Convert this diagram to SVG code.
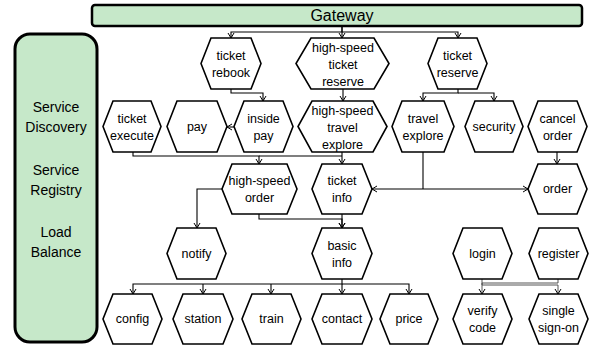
<svg xmlns="http://www.w3.org/2000/svg" width="593" height="347" viewBox="0 0 593 347">
<style>
.hex{fill:#fff;stroke:#000;stroke-width:1.6;stroke-linejoin:miter}
.t{font-family:"Liberation Sans",Arial,sans-serif;font-size:12.5px;fill:#000;text-anchor:middle}
.side{font-family:"Liberation Sans",Arial,sans-serif;font-size:14px;fill:#000;text-anchor:middle}
.c{fill:none;stroke:#000;stroke-width:1.1}
.a{marker-end:url(#arr)}
</style>
<defs>
<marker id="arr" viewBox="-6 -4 7 8" markerWidth="7" markerHeight="8" refX="0" refY="0" orient="auto" markerUnits="userSpaceOnUse">
<path d="M-5,-3 L0,0 L-5,3" fill="none" stroke="#000" stroke-width="1"/>
</marker>
</defs>
<rect width="593" height="347" fill="#fff"/>
<g id="gateway">
<rect x="92" y="5" width="490" height="21" rx="3" fill="#c6e8c9" stroke="#000" stroke-width="2.5"/>
<text x="342" y="21" class="side" style="font-size:16px">Gateway</text>
</g>
<g id="infra">
<rect x="15" y="34" width="82" height="308" rx="15" fill="#c6e8c9" stroke="#000" stroke-width="3"/>
<text class="side" x="56" y="112">Service</text>
<text class="side" x="56" y="132">Discovery</text>
<text class="side" x="56" y="175">Service</text>
<text class="side" x="56" y="195">Registry</text>
<text class="side" x="56" y="237">Load</text>
<text class="side" x="56" y="257">Balance</text>
</g>
<g id="connectors">
<path class="c a" d="M342,26 V32 H231 V38"/>
<path class="c a" d="M342,26 V38"/>
<path class="c a" d="M342,32 H458 V38"/>
<path class="c a" d="M231,89 V93 H263 V101"/>
<path class="c a" d="M343,89 V101"/>
<path class="c a" d="M458,89 V93 H423 V101"/>
<path class="c a" d="M458,93 H494 V101"/>
<path class="c a" d="M234,127 H227"/>
<path class="c a" d="M133,152 V156 H259 V164"/>
<path class="c" d="M259,156 H342"/>
<path class="c a" d="M342,152 V164"/>
<path class="c" d="M423,152 V189"/>
<path class="c a" d="M423,189 H372"/>
<path class="c a" d="M423,189 H528"/>
<path class="c a" d="M557,152 V164"/>
<path class="c a" d="M222,189 H197 V228"/>
<path class="c a" d="M259,214 V219 H342 V228"/>
<path class="c a" d="M342,214 V228"/>
<path class="c a" d="M342,279 V284 H133 V294"/>
<path class="c a" d="M203,284 V294"/>
<path class="c a" d="M271,284 V294"/>
<path class="c a" d="M342,284 V294"/>
<path class="c a" d="M342,284 H409 V294"/>
<path class="c a" d="M482,279 V285 H558 V294" style="stroke:#444;stroke-width:0.9"/>
<path class="c a" d="M558,279 V283 H482 V294" style="stroke:#444;stroke-width:0.9"/>
</g>
<g id="ticket-rebook"><polygon class="hex" points="211,38 251,38 261,63.5 251,89 211,89 201,63.5"/><text class="t" x="231" y="60">ticket</text><text class="t" x="231" y="77">rebook</text></g>
<g id="hs-ticket-reserve"><polygon class="hex" points="311,38 374,38 389,63.5 374,89 311,89 296,63.5"/><text class="t" x="343" y="52">high-speed</text><text class="t" x="343" y="69">ticket</text><text class="t" x="343" y="86">reserve</text></g>
<g id="ticket-reserve"><polygon class="hex" points="438,38 477,38 487,63.5 477,89 438,89 428,63.5"/><text class="t" x="457.5" y="60">ticket</text><text class="t" x="457.5" y="77">reserve</text></g>
<g id="ticket-execute"><polygon class="hex" points="113,101 151,101 161,126.5 151,152 113,152 103,126.5"/><text class="t" x="132" y="123">ticket</text><text class="t" x="132" y="140">execute</text></g>
<g id="pay"><polygon class="hex" points="177,101 217,101 227,126.5 217,152 177,152 167,126.5"/><text class="t" x="197" y="131">pay</text></g>
<g id="inside-pay"><polygon class="hex" points="244,101 283,101 293,126.5 283,152 244,152 234,126.5"/><text class="t" x="263.5" y="123">inside</text><text class="t" x="263.5" y="140">pay</text></g>
<g id="hs-travel-explore"><polygon class="hex" points="312,101 373,101 387,126.5 373,152 312,152 298,126.5"/><text class="t" x="342.5" y="115">high-speed</text><text class="t" x="342.5" y="132">travel</text><text class="t" x="342.5" y="149">explore</text></g>
<g id="travel-explore"><polygon class="hex" points="402,101 444,101 454,126.5 444,152 402,152 392,126.5"/><text class="t" x="423" y="123">travel</text><text class="t" x="423" y="140">explore</text></g>
<g id="security"><polygon class="hex" points="475,101 513,101 523,126.5 513,152 475,152 465,126.5"/><text class="t" x="494" y="131">security</text></g>
<g id="cancel-order"><polygon class="hex" points="538,101 577,101 587,126.5 577,152 538,152 528,126.5"/><text class="t" x="557.5" y="123">cancel</text><text class="t" x="557.5" y="140">order</text></g>
<g id="hs-order"><polygon class="hex" points="232,164 287,164 297,189 287,214 232,214 222,189"/><text class="t" x="259.5" y="185">high-speed</text><text class="t" x="259.5" y="202">order</text></g>
<g id="ticket-info"><polygon class="hex" points="322,164 362,164 372,189 362,214 322,214 312,189"/><text class="t" x="342" y="185">ticket</text><text class="t" x="342" y="202">info</text></g>
<g id="order"><polygon class="hex" points="538,164 577,164 587,189 577,214 538,214 528,189"/><text class="t" x="557.5" y="193">order</text></g>
<g id="notify"><polygon class="hex" points="177,228 216,228 226,253.5 216,279 177,279 167,253.5"/><text class="t" x="196.5" y="258">notify</text></g>
<g id="basic-info"><polygon class="hex" points="322,228 362,228 372,253.5 362,279 322,279 312,253.5"/><text class="t" x="342" y="250">basic</text><text class="t" x="342" y="267">info</text></g>
<g id="login"><polygon class="hex" points="463,228 502,228 512,253.5 502,279 463,279 453,253.5"/><text class="t" x="482.5" y="258">login</text></g>
<g id="register"><polygon class="hex" points="539,228 578,228 588,253.5 578,279 539,279 529,253.5"/><text class="t" x="558.5" y="258">register</text></g>
<g id="config"><polygon class="hex" points="113,294 152,294 162,319 152,344 113,344 103,319"/><text class="t" x="132.5" y="323">config</text></g>
<g id="station"><polygon class="hex" points="183,294 223,294 233,319 223,344 183,344 173,319"/><text class="t" x="203" y="323">station</text></g>
<g id="train"><polygon class="hex" points="252,294 291,294 301,319 291,344 252,344 242,319"/><text class="t" x="271.5" y="323">train</text></g>
<g id="contact"><polygon class="hex" points="322,294 362,294 372,319 362,344 322,344 312,319"/><text class="t" x="342" y="323">contact</text></g>
<g id="price"><polygon class="hex" points="390,294 428,294 438,319 428,344 390,344 380,319"/><text class="t" x="409" y="323">price</text></g>
<g id="verify-code"><polygon class="hex" points="463,294 502,294 512,319 502,344 463,344 453,319"/><text class="t" x="482.5" y="315">verify</text><text class="t" x="482.5" y="332">code</text></g>
<g id="single-sign-on"><polygon class="hex" points="539,294 578,294 588,319 578,344 539,344 529,319"/><text class="t" x="558.5" y="315">single</text><text class="t" x="558.5" y="332">sign-on</text></g>
</svg>
